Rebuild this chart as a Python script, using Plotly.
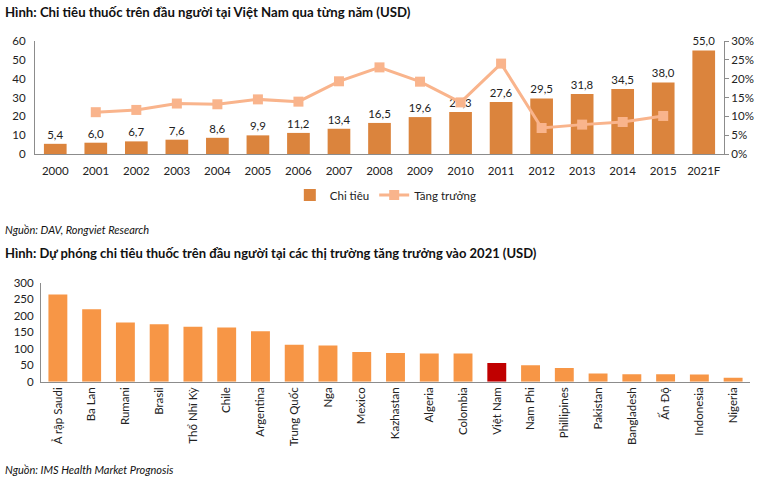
import plotly.graph_objects as go

W, H = 764, 481

years = ["2000", "2001", "2002", "2003", "2004", "2005", "2006", "2007",
         "2008", "2009", "2010", "2011", "2012", "2013", "2014", "2015", "2021F"]
spend = [5.4, 6.0, 6.7, 7.6, 8.6, 9.9, 11.2, 13.4, 16.5, 19.6, 22.3, 27.6,
         29.5, 31.8, 34.5, 38.0, 55.0]
growth_years = ["2001", "2002", "2003", "2004", "2005", "2006", "2007", "2008",
                "2009", "2010", "2011", "2012", "2013", "2014", "2015"]
growth = [0.111, 0.117, 0.134, 0.132, 0.145, 0.139, 0.193, 0.230, 0.192,
          0.137, 0.240, 0.069, 0.078, 0.085, 0.101]

countries = ["Ả rập Saudi", "Ba Lan", "Rumani", "Brasil", "Thổ Nhĩ Kỳ", "Chile",
             "Argentina", "Trung Quốc", "Nga", "Mexico", "Kazhastan", "Algeria",
             "Colombia", "Việt Nam", "Nam Phi", "Phillipines", "Pakistan",
             "Bangladesh", "Ấn Độ", "Indonesia", "Nigeria"]
spend2021 = [265, 220, 180, 175, 167, 165, 153, 112, 110, 90, 87, 86, 86, 57,
             50, 42, 25, 23, 23, 22, 12]

highlight = "Việt Nam"

def px_x(p):
    return p / W

def px_y(p):
    return 1 - p / H

FONT = "Lato"
AXC = "#8c8c8c"

bar_colors = ["#C00000" if c == highlight else "#F79646" for c in countries]

fig = go.Figure()

fig.add_trace(go.Bar(
    x=years, y=spend, name="Chi tiêu", marker_color="#DB843D",
    marker_line_width=0, width=0.56,
    text=[f"{v:.1f}".replace(".", ",") for v in spend], textposition="outside",
    textfont=dict(size=11.5, color="#222", family=FONT), cliponaxis=False,
    xaxis="x", yaxis="y"))

fig.add_trace(go.Scatter(
    x=growth_years, y=growth, name="Tăng trưởng", mode="lines+markers",
    line=dict(color="#F9B48C", width=3),
    marker=dict(symbol="square", size=10, color="#F9B48C"),
    xaxis="x", yaxis="y2"))

fig.add_trace(go.Bar(
    x=countries, y=spend2021, marker_color=bar_colors, marker_line_width=0,
    width=0.56, showlegend=False, xaxis="x2", yaxis="y3"))

top_dom_x = [px_x(35), px_x(724)]
top_dom_y = [px_y(154), px_y(41)]
bot_dom_x = [px_x(41), px_x(750)]
bot_dom_y = [px_y(381.7), px_y(283)]

tickf = dict(family=FONT, size=11.5, color="#222")

fig.update_layout(
    width=W, height=H, margin=dict(l=0, r=0, t=0, b=0, autoexpand=False),
    paper_bgcolor="white", plot_bgcolor="white",
    font=dict(family=FONT, size=11.5, color="#222"),
    xaxis=dict(domain=top_dom_x, anchor="y", type="category", automargin=False,
               showline=True, linecolor=AXC, ticks="", tickfont=tickf,
               showgrid=False, ticklabelstandoff=6),
    yaxis=dict(domain=top_dom_y, anchor="x", range=[0, 60], dtick=10,
               automargin=False,
               showline=True, linecolor=AXC, showgrid=False, zeroline=False,
               ticks="", tickfont=tickf, ticklabelstandoff=6),
    yaxis2=dict(overlaying="y", side="right", anchor="x", range=[0, 0.30],
                automargin=False,
                dtick=0.05, tickformat=".0%", showline=True, linecolor=AXC,
                showgrid=False, zeroline=False, ticks="outside", ticklen=4,
                tickcolor=AXC, tickfont=tickf),
    xaxis2=dict(domain=bot_dom_x, anchor="y3", type="category", automargin=False,
                showline=True, linecolor=AXC, ticks="", tickangle=-90,
                tickfont=tickf, showgrid=False),
    yaxis3=dict(domain=bot_dom_y, anchor="x2", range=[0, 300], dtick=50,
                automargin=False,
                showline=True, linecolor=AXC, showgrid=False, zeroline=False,
                ticks="", tickfont=tickf, ticklabelstandoff=4),
    legend=dict(orientation="h", x=0.505, xanchor="center", y=px_y(195),
                yanchor="middle", font=dict(family=FONT, size=11.5, color="#222"),
                bgcolor="rgba(0,0,0,0)", itemwidth=30),
    showlegend=True,
)

annots = [
    dict(text="<b>Hình: Chi tiêu thuốc trên đầu người tại Việt Nam qua từng năm (USD)</b>",
         x=px_x(3), y=px_y(12), size=13.2),
    dict(text="<i>Nguồn: DAV, Rongviet Research</i>",
         x=px_x(3), y=px_y(229), size=11),
    dict(text="<b>Hình: Dự phóng chi tiêu thuốc trên đầu người tại các thị trường tăng trưởng vào 2021 (USD)</b>",
         x=px_x(3), y=px_y(253), size=13),
    dict(text="<i>Nguồn: IMS Health Market Prognosis</i>",
         x=px_x(3), y=px_y(469), size=11),
]
for a in annots:
    fig.add_annotation(text=a["text"], x=a["x"], y=a["y"], xref="paper",
                       yref="paper", xanchor="left", yanchor="middle",
                       showarrow=False,
                       font=dict(family=FONT, size=a["size"], color="#111"))

fig.write_html("out.html", config={"displayModeBar": False},
               post_script="document.body.style.margin='0';document.body.style.padding='0';")
